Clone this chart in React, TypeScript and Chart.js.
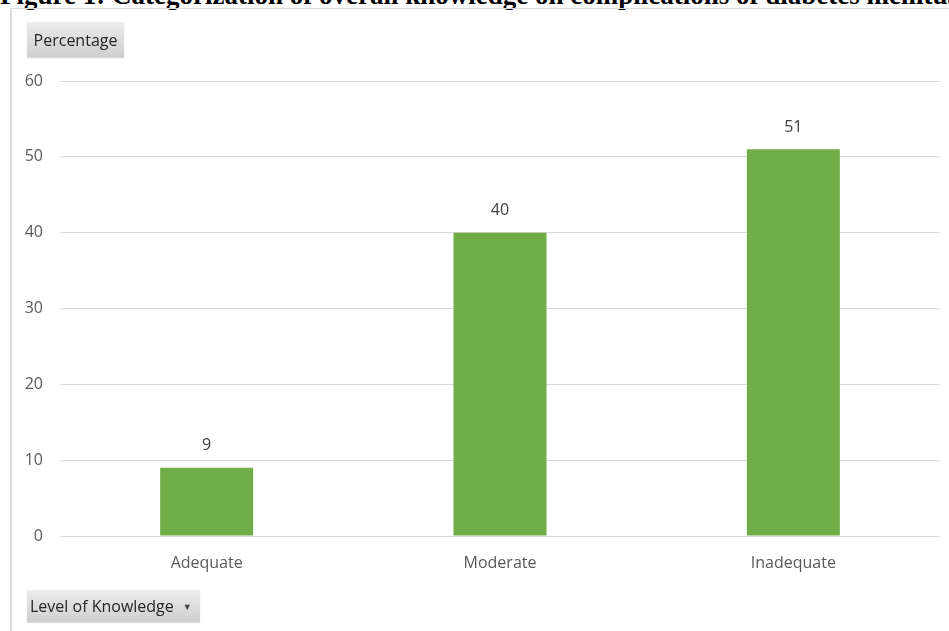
import React, { useEffect, useRef } from "react";
import { Chart, registerables } from "chart.js";

Chart.register(...registerables);

const titleText = "Figure 1: Categorization of overall knowledge on complications of diabetes mellitus";
const categories = ["Adequate", "Moderate", "Inadequate"];
const percentages = [9, 40, 51];
const yTicks = [0, 10, 20, 30, 40, 50, 60];
const yAxisButton = "Percentage";
const xAxisButton = "Level of Knowledge";

const FONT = "'Open Sans', 'Noto Sans', sans-serif";

const valueLabels = {
  id: "valueLabels",
  afterDatasetsDraw(chart: any) {
    const ctx = chart.ctx;
    const meta = chart.getDatasetMeta(0);
    ctx.save();
    ctx.font = `16px ${FONT}`;
    ctx.fillStyle = "#404040";
    ctx.textAlign = "center";
    ctx.textBaseline = "middle";
    meta.data.forEach((bar: any, i: number) => {
      ctx.fillText(String(percentages[i]), bar.x, bar.y - 22);
    });
    ctx.restore();
  },
};

const btnStyle: React.CSSProperties = {
  position: "absolute",
  background: "linear-gradient(#ececec, #cfcfcf)",
  boxShadow: "0 1px 1px rgba(0,0,0,0.15)",
  color: "#262626",
  fontFamily: FONT,
  fontSize: 16,
  display: "flex",
  alignItems: "center",
  boxSizing: "border-box",
  whiteSpace: "nowrap",
};

export default function App() {
  const ref = useRef<HTMLCanvasElement>(null);
  useEffect(() => {
    const chart = new Chart(ref.current!, {
      type: "bar",
      data: {
        labels: categories,
        datasets: [
          {
            data: percentages,
            backgroundColor: "#70ad47",
            categoryPercentage: 1,
            barPercentage: 0.317,
          },
        ],
      },
      plugins: [valueLabels],
      options: {
        animation: false,
        responsive: false,
        maintainAspectRatio: false,
        layout: { padding: { top: 81, right: 9, left: 0, bottom: 0 } },
        plugins: { legend: { display: false }, tooltip: { enabled: false } },
        scales: {
          y: {
            min: 0,
            max: 60,
            afterFit: (s: any) => {
              s.width = 60;
            },
            afterBuildTicks: (s: any) => {
              s.ticks = yTicks.map((v) => ({ value: v }));
            },
            ticks: {
              color: "#595959",
              font: { family: FONT, size: 16 },
              padding: 17,
            },
            grid: { color: "#d9d9d9", lineWidth: 1, drawTicks: false },
            border: { display: false },
          },
          x: {
            afterFit: (s: any) => {
              s.height = 95;
            },
            ticks: {
              color: "#595959",
              font: { family: FONT, size: 16 },
              padding: 18,
            },
            grid: { display: false, drawTicks: false },
            border: { display: false },
          },
        },
      },
    });
    return () => chart.destroy();
  }, []);

  return (
    <div style={{ position: "fixed", left: 0, top: 0, width: 949, height: 631, background: "#fff", overflow: "hidden" }}>
      <div
        style={{
          position: "absolute",
          left: 0,
          top: -18,
          fontFamily: "'Liberation Serif', 'Times New Roman', serif",
          fontWeight: "bold",
          fontSize: 27,
          lineHeight: "27px",
          whiteSpace: "nowrap",
          color: "#000",
        }}
      >
        {titleText}
      </div>
      <div style={{ position: "absolute", left: 10, top: 8, width: 939, height: 1, background: "#dcdcdc" }} />
      <div style={{ position: "absolute", left: 10, top: 8, width: 2, height: 623, background: "#dcdcdc" }} />
      <canvas ref={ref} width={949} height={631} style={{ position: "absolute", left: 0, top: 0 }} />
      <div style={{ ...btnStyle, left: 27, top: 22, width: 97, height: 35, justifyContent: "center" }}>{yAxisButton}</div>
      <div style={{ ...btnStyle, left: 27, top: 590, width: 173, height: 32, paddingLeft: 3 }}>
        {xAxisButton}
        <span style={{ fontSize: 9, marginLeft: 9, color: "#404040" }}>▼</span>
      </div>
    </div>
  );
}
